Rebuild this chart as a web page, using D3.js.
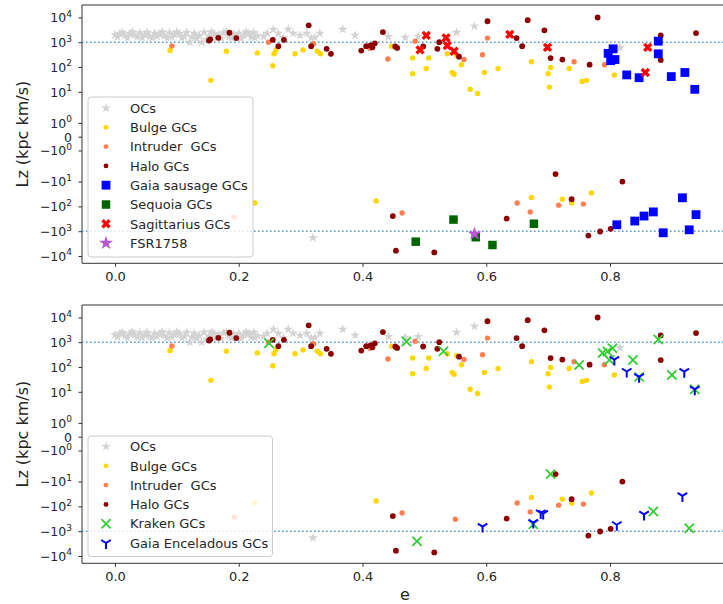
<!DOCTYPE html>
<html><head><meta charset="utf-8">
<script src="https://cdn.jsdelivr.net/npm/d3@7"></script>
<style>
body{margin:0;background:#fff}
svg{display:block}
text{font-family:"DejaVu Sans",sans-serif;fill:#262626}
</style>
</head><body>
<svg id="c" width="723" height="604"></svg>
<script>
// ---------------- data (eccentricity e, Lz in kpc km/s) ----------------
const ocE = [0.000,0.008,0.016,0.024,0.032,0.040,0.048,0.056,0.064,0.072,0.080,0.088,0.096,0.104,0.112,0.121,0.128,0.136,0.140,0.144,0.152,0.160,0.168,0.176,0.184,0.192,0.200,0.208,0.216,0.224,0.230,
  0.004,0.012,0.020,0.028,0.036,0.044,0.052,0.060,0.068,0.076,0.084,0.092,0.100,0.108,0.116,0.124,0.132,0.148,0.156,0.164,0.172,0.180,0.188,0.196,0.204,0.212,0.220,0.226,
  0.240,0.246,0.256,0.264,0.272,0.280,0.288,0.299,0.310,0.317,0.323,0.331,0.368,0.388,0.442,0.469,0.490,0.552,0.581,0.816,0.320];
const ocLz = [2000,2300,1800,2200,1900,2400,2000,1700,2300,2100,1800,2400,2000,2200,1700,1000,2300,1900,1000,2500,1800,2200,2000,2400,1700,2100,2300,1900,2200,2500,1800,
  1600,2500,1500,2600,1600,1500,2500,1500,1700,2600,1500,1600,2600,1500,2500,1600,1400,1300,2600,1500,1400,2600,1500,1600,1400,2600,1600,1500,
  1700,2270,3300,2270,1500,3300,2270,1880,2270,1500,1560,2270,3300,1880,1700,1560,1700,2500,4400,600,-1860];

const bulgeGCs = [[0.089,460],[0.155,29],[0.180,430],[0.230,370],[0.255,112],[0.257,340],[0.260,490],[0.291,340],[0.304,490],[0.327,430],[0.332,340],
  [0.447,690],[0.481,230],[0.481,54],[0.503,87],[0.507,230],[0.537,340],[0.545,60],[0.548,51],[0.552,290],[0.560,124],[0.574,12.6],[0.586,8.5],
  [0.597,60],[0.619,87],[0.673,163],[0.700,54],[0.704,95],[0.702,15.5],[0.734,87],[0.755,26],[0.762,29],[0.807,48],
  [0.226,-73],[0.422,-61],[0.673,-44],[0.723,-51],[0.738,-73],[0.770,-29]];

const intruderGCs = [[0.092,700],[0.248,1000],[0.321,860],[0.412,570],[0.441,210],[0.485,1100],[0.564,200],[0.594,310],[0.602,1460],[0.742,163],[0.791,124],
  [0.193,-270],[0.464,-185],[0.550,-330],[0.650,-73],[0.671,-167],[0.717,-89],[0.757,-81]];

const haloGCs = [[0.152,1170],[0.154,1300],[0.167,1500],[0.185,2400],[0.196,1460],[0.255,1250],[0.264,690],[0.273,1250],[0.313,4800],[0.317,690],
  [0.342,540],[0.349,340],[0.398,460],[0.406,690],[0.413,750],[0.416,620],[0.420,900],[0.433,2560],[0.453,670],[0.456,590],[0.498,670],[0.521,540],
  [0.524,1000],[0.556,260],[0.602,7000],[0.649,1460],[0.658,690],[0.667,7700],[0.694,3000],[0.704,230],[0.723,200],[0.767,124],[0.780,9900],
  [0.882,1880],[0.882,190],[0.939,2330],
  [0.449,-245],[0.454,-6100],[0.516,-7200],[0.633,-310],[0.712,-5],[0.738,-51],[0.765,-1500],[0.784,-1030],[0.801,-800],[0.820,-10]];

const gaiaSausageGCs = [[0.797,355],[0.805,540],[0.801,180],[0.808,200],[0.827,48],[0.847,37],[0.878,1100],[0.878,340],[0.899,41],[0.921,60],[0.937,12.6],
  [0.811,-550],[0.840,-390],[0.855,-245],[0.870,-167],[0.886,-1160],[0.917,-45],[0.928,-880],[0.939,-215]];

const sequoiaGCs = [[0.486,-2640],[0.547,-340],[0.583,-1750],[0.610,-3600],[0.677,-500]];

const sagittariusGCs = [[0.493,490],[0.503,1880],[0.535,1500],[0.537,730],[0.548,430],[0.638,2060],[0.699,620],[0.861,620],[0.857,60]];

const fsr1758 = [[0.581,-1270]];

const krakenGCs = [[0.249,910],[0.471,1070],[0.531,430],[0.750,120],[0.788,370],[0.796,420],[0.804,570],[0.799,190],[0.837,190],[0.847,40],
  [0.878,1290],[0.900,48],[0.937,12.6],
  [0.488,-2560],[0.676,-530],[0.704,-5],[0.870,-160],[0.928,-760]];

const gaiaEnceladusGCs = [[0.807,200],[0.827,66],[0.847,40],[0.920,65],[0.937,12.6],
  [0.594,-650],[0.676,-450],[0.688,-185],[0.692,-195],[0.811,-550],[0.855,-210],[0.917,-38]];

const xTicks = [0, 0.2, 0.4, 0.6, 0.8];
const yTicks = [1e4, 1e3, 1e2, 1e1, 1, 0, -1, -1e1, -1e2, -1e3, -1e4];
const refLines = [1000, -1000];

// ---------------- drawing ----------------
const svg = d3.select('#c');
const ocData = ocE.map((e,i)=>[e, ocLz[i]]);

// matplotlib-like symlog transform (linthresh 2, linscale 1)
const LT = 2, LSA = 1/(1-1/10);
const symT = v => { const a = Math.abs(v); return a <= LT ? v*LSA : Math.sign(v)*LT*(LSA + Math.log10(a/LT)); };

function drawMarker(sel, type, color, size){
  if(type==='star'){
    sel.append('path').attr('d', d3.symbol(d3.symbolStar, size)()).attr('fill', color);
  } else if(type==='circle'){
    sel.append('circle').attr('r', size).attr('fill', color);
  } else if(type==='square'){
    sel.append('path').attr('d', d3.symbol(d3.symbolSquare, size)()).attr('fill', color);
  } else if(type==='Xfill'){
    sel.append('path').attr('d', d3.symbol(d3.symbolCross, size)()).attr('transform','rotate(45)').attr('fill', color);
  } else if(type==='x'){
    const r=size;
    sel.append('path').attr('d',`M${-r},${-r}L${r},${r}M${-r},${r}L${r},${-r}`).attr('stroke',color).attr('stroke-width',1.8).attr('fill','none');
  } else if(type==='tri'){
    const r=size;
    sel.append('path').attr('d',`M0,0L0,${r}M0,0L${0.8*r},${-0.5*r}M0,0L${-0.8*r},${-0.5*r}`).attr('stroke',color).attr('stroke-width',2).attr('fill','none');
  }
}

function panel(top, series, legendBox){
  const g = svg.append('g').attr('transform',`translate(0,${top})`);
  const pL=82, pR=723, pT=5, pB=263.3;
  const x = d3.scaleLinear().domain([-0.0533, 0.9826]).range([pL, pR]);
  const yLin = d3.scaleLinear().domain([symT(-19700), symT(31600)]).range([pB, pT]);
  const y = v => yLin(symT(v));
  y.domain = () => [-19700, 31600];
  y.range = () => [pB, pT];
  y.copy = () => y;

  // axes
  const xAxis = d3.axisBottom(x).tickValues(xTicks).tickFormat(d3.format('.1f')).tickSize(3.5).tickPadding(5).tickSizeOuter(0);
  const gx = g.append('g').attr('transform',`translate(0,${pB})`).call(xAxis);
  gx.selectAll('text').style('font-size','13px');
  const yAxis = d3.axisLeft(y).tickValues(yTicks).tickFormat(()=>'').tickSize(3.5).tickSizeOuter(0);
  const gy = g.append('g').attr('transform',`translate(${pL},0)`).call(yAxis);
  gy.selectAll('.tick').each(function(d){
    const t = d3.select(this).append('text').attr('x',-10).attr('y',4.3)
      .attr('text-anchor','end').style('font-size','12.5px');
    if(d===0){ t.text('0'); return; }
    const k = Math.round(Math.log10(Math.abs(d)));
    t.append('tspan').text((d<0?'\u2212':'')+'10');
    t.append('tspan').attr('dy',-5.5).style('font-size','9px').text(k);
  });
  [gx, gy].forEach(a=>{ a.selectAll('line').attr('stroke','#333'); a.select('.domain').remove(); });
  g.append('line').attr('x1',pL).attr('x2',pL).attr('y1',pT).attr('y2',pB).attr('stroke','#333');
  g.append('line').attr('x1',pL).attr('x2',pR).attr('y1',pB).attr('y2',pB).attr('stroke','#333');
  g.append('line').attr('x1',pL).attr('x2',pR).attr('y1',pT).attr('y2',pT).attr('stroke','#333');

  // reference lines
  g.selectAll(null).data(refLines).join('line')
    .attr('x1',pL).attr('x2',pR).attr('y1',d=>y(d)).attr('y2',d=>y(d))
    .attr('stroke','#4f9bd3').attr('stroke-width',1.6).attr('stroke-dasharray','1.6,2.4');

  // series
  series.forEach(s=>{
    g.append('g').selectAll(null).data(s.data).join('g')
      .attr('transform', d=>`translate(${x(d[0])},${y(d[1])})`)
      .each(function(){ drawMarker(d3.select(this), s.type, s.color, s.size); });
  });

  // y label
  g.append('text').attr('transform',`translate(22,${(pT+pB)/2}) rotate(-90)`).attr('text-anchor','middle')
    .attr('dy','0.35em').style('font-size','16px').text('Lz (kpc km/s)');

  // legend
  const lg = g.append('g');
  lg.append('rect').attr('x',legendBox.x).attr('y',legendBox.y).attr('width',legendBox.w).attr('height',legendBox.h)
    .attr('rx',3).attr('fill','#fff').attr('fill-opacity',0.8).attr('stroke','#cccccc');
  series.forEach((s,i)=>{
    const cy = legendBox.first + i*19.3;
    const m = lg.append('g').attr('transform',`translate(106,${cy})`);
    drawMarker(m, s.type, s.color, s.legendSize || s.size);
    lg.append('text').attr('x',130).attr('y',cy+4.7).style('font-size','13px').style('white-space','pre').text(s.label);
  });
  return {x, g};
}

const common = [
  {label:'OCs', data:ocData, type:'star', color:'#d3d3d3', size:30},
  {label:'Bulge GCs', data:bulgeGCs, type:'circle', color:'#ffd700', size:2.7, legendSize:2.4},
  {label:'Intruder  GCs', data:intruderGCs, type:'circle', color:'#ff7f50', size:2.7, legendSize:2.4},
  {label:'Halo GCs', data:haloGCs, type:'circle', color:'#8b0000', size:2.9, legendSize:2.4},
];

panel(0, common.concat([
  {label:'Gaia sausage GCs', data:gaiaSausageGCs, type:'square', color:'#0000ff', size:78},
  {label:'Sequoia GCs', data:sequoiaGCs, type:'square', color:'#006400', size:72},
  {label:'Sagittarius GCs', data:sagittariusGCs, type:'Xfill', color:'#ff0000', size:55},
  {label:'FSR1758', data:fsr1758, type:'star', color:'#ba55d3', size:60},
]), {x:88, y:97, w:165, h:160, first:108});

panel(300, common.concat([
  {label:'Kraken GCs', data:krakenGCs, type:'x', color:'#32cd32', size:4.6},
  {label:'Gaia Enceladous GCs', data:gaiaEnceladusGCs, type:'tri', color:'#0000ff', size:6},
]), {x:88, y:136, w:184.5, h:120.5, first:146.5});

svg.append('text').attr('x',405).attr('y',595).attr('text-anchor','middle').attr('dy','0.3em')
  .style('font-size','16px').text('e');
</script>
</body></html>
